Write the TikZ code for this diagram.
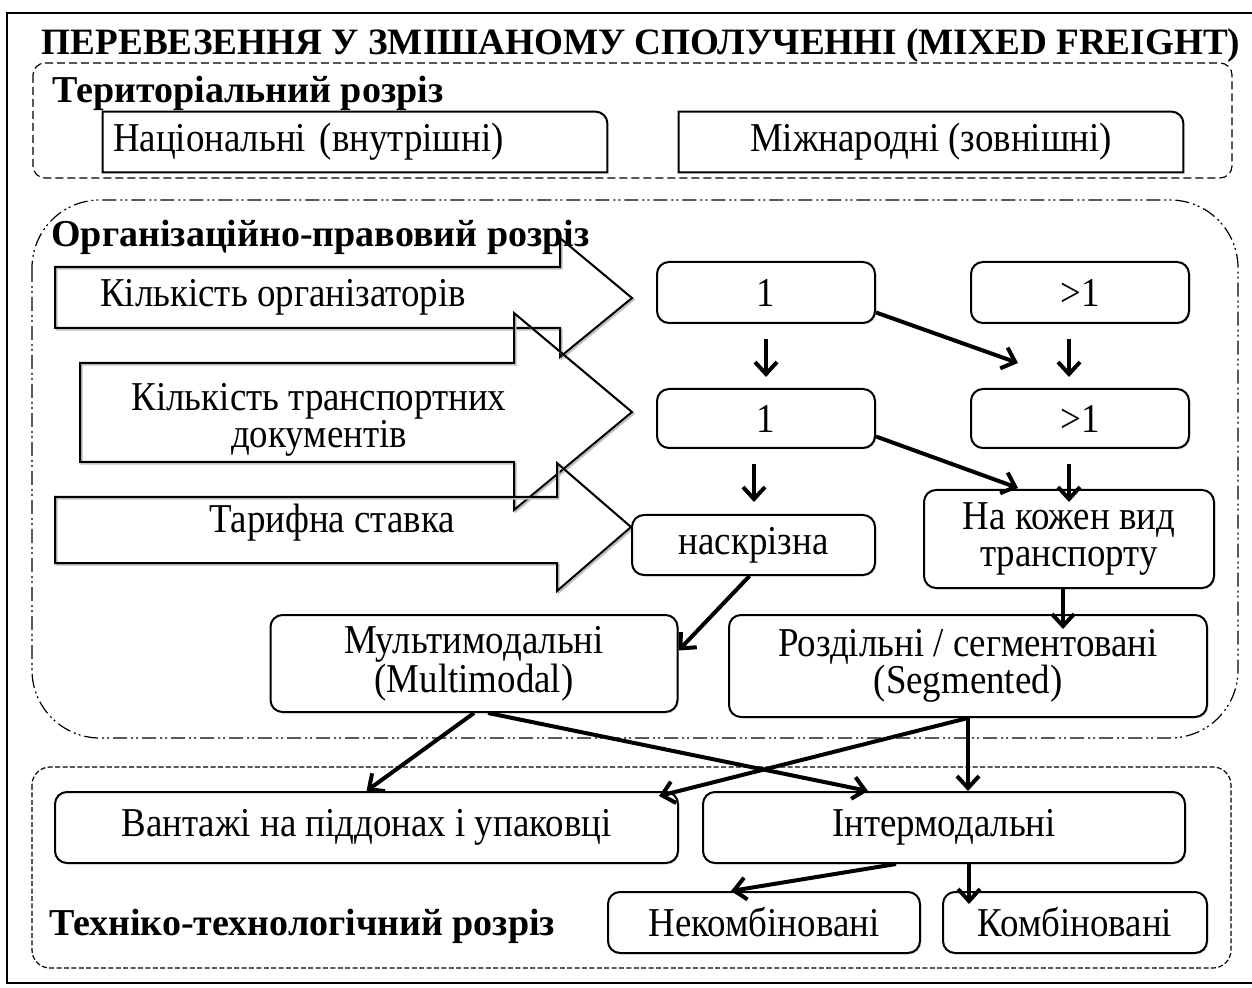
\documentclass[tikz,border=0pt]{standalone}
\usepackage{fontspec}
\setmainfont{Liberation Serif}
\newfontfamily\bodyfont[FakeStretch=0.9]{Liberation Serif}
\usetikzlibrary{arrows.meta,shadows}

\begin{document}
\begin{tikzpicture}[x=0.5pt,y=-0.5pt,
  every node/.style={font=\bodyfont\fontsize{20.5}{18.5}\selectfont},
  box/.style={draw,line width=1pt,rounded corners=6pt,fill=white,align=center,inner sep=2pt,
    drop shadow={shadow xshift=0.7pt,shadow yshift=-0.7pt,fill=black!25}},
  plainbox/.style={inner xsep=5pt,inner ysep=2pt},
  sect/.style={font=\bfseries\fontsize{19}{20}\selectfont,anchor=base west,inner sep=0pt},
  flow/.style={line width=2pt,-{Straight Barb[length=6pt,width=11pt]}},
  bigarrow/.style={line width=1pt,line join=miter,
    preaction={draw=black!25,line width=1pt,transform canvas={shift={(0.8pt,-0.8pt)}}}},
  terrline/.style={line width=0.6pt,rounded corners=6pt,dash pattern=on 4pt off 2pt},
  orgline/.style={line width=0.6pt,rounded corners=34pt,dash pattern=on 7pt off 2pt on 1pt off 1.5pt on 1pt off 2pt},
  techline/.style={line width=0.6pt,rounded corners=9pt,dash pattern=on 2.5pt off 1.2pt}]
  \useasboundingbox (0,0) rectangle (1252,988);
  \draw[line width=1pt] (7,13) rectangle (1258,983);

  % title
  \node[font=\bfseries\fontsize{18.6}{20}\selectfont,anchor=base] (title) at (641,55)
    {ПЕРЕВЕЗЕННЯ У ЗМІШАНОМУ СПОЛУЧЕННІ (MIXED FREIGHT)};

  % territorial
  \draw[terrline] (33,63) rectangle (1232,178);
  \node[sect] (terrlbl) at (52,103) {Територіальний розріз};
  \node[plainbox,minimum width=252pt,minimum height=30pt,text width=242pt,align=left]
    (nat) at (355,142) {Національні (внутрішні)};
  \node[plainbox,minimum width=252pt,minimum height=30pt] (mizh) at (931,142)
    {Міжнародні (зовнішні)};
  \draw[line width=1pt] (nat.south west) -- (nat.north west) -- ([xshift=-6pt]nat.north east)
    arc[start angle=90,end angle=0,radius=6pt] -- (nat.south east) -- cycle;
  \draw[line width=1pt] (mizh.south west) -- (mizh.north west) -- ([xshift=-6pt]mizh.north east)
    arc[start angle=90,end angle=0,radius=6pt] -- (mizh.south east) -- cycle;

  % organisational
  \draw[orgline] (32,200) rectangle (1238,738);
  \draw[bigarrow] (55,267) -- (560,267) -- (560,238) -- (632,298) -- (560,357) -- (560,328) -- (55,328) -- cycle;
  \draw[bigarrow] (80,363) -- (514,363) -- (514,313) -- (632,412) -- (514,510) -- (514,462) -- (80,462) -- cycle;
  \draw[bigarrow] (55,497) -- (557,497) -- (557,463) -- (631,527) -- (557,591) -- (557,563) -- (55,563) -- cycle;
  \node[sect] (orglbl) at (51,247) {Організаційно-правовий розріз};
  \node (orgtxt) at (283,297) {Кількість організаторів};
  \node[align=center] (doctxt) at (319,420) {Кількість транспортних\\документів};
  \node (ratetxt) at (332,523) {Тарифна ставка};

  \node[box,minimum width=109pt,minimum height=30.5pt] (one1) at (766,292.5) {1};
  \node[box,minimum width=109pt,minimum height=30.5pt] (many1) at (1080,292.5) {>1};
  \node[box,minimum width=109pt,minimum height=29.5pt] (one2) at (766,418.5) {1};
  \node[box,minimum width=109pt,minimum height=29.5pt] (many2) at (1080,418.5) {>1};
  \node[box,minimum width=121.5pt,minimum height=30pt] (nasq) at (753.5,545) {наскрізна};
  \node[box,minimum width=145pt,minimum height=49pt] (kozhen) at (1069,539) {На кожен вид\\транспорту};
  \node[box,minimum width=203.5pt,minimum height=48.5pt] (mult) at (474,663.5) {Мультимодальні\\(Multimodal)};
  \node[box,minimum width=239pt,minimum height=51pt] (seg) at (968,666) {Роздільні / сегментовані\\(Segmented)};
  \coordinate (m1) at (1018,363);
  \coordinate (k1) at (1018,488);

  % technical
  \draw[techline] (32,767) rectangle (1231,968);
  \node[box,minimum width=311.5pt,minimum height=35.5pt] (vant) at (366.5,827.5) {Вантажі на піддонах і упаковці};
  \node[box,minimum width=241pt,minimum height=35.5pt] (inter) at (944,827.5) {Інтермодальні};
  \node[box,minimum width=156pt,minimum height=30.5pt] (nekomb) at (764,922.5) {Некомбіновані};
  \node[box,minimum width=132pt,minimum height=30.5pt] (komb) at (1075,922.5) {Комбіновані};
  \node[sect] (techlbl) at (49,935) {Техніко-технологічний розріз};

  % connectors
  \draw[flow,shorten <=7.5pt,shorten >=5.5pt] (one1.south) -- (one1.south |- one2.north);
  \draw[flow,shorten <=7.5pt,shorten >=5.5pt] ([xshift=-5.5pt]many1.south) -- ([xshift=-5.5pt]many1.south |- many2.north);
  \draw[flow] ([yshift=-10pt]one1.east) -- (m1);
  \draw[flow,shorten <=7.5pt,shorten >=6pt] ([xshift=-6pt]one2.south) -- ([xshift=-6pt]one2.south |- nasq.north);
  \draw[flow,shorten <=7.5pt,shorten >=-6.5pt] ([xshift=-5.5pt]many2.south) -- ([xshift=-5.5pt]many2.south |- kozhen.north);
  \draw[flow] ([yshift=-9pt]one2.east) -- (k1);
  \draw[flow] ([xshift=-2pt]nasq.south) -- ([yshift=6.5pt]mult.east);
  \draw[flow,shorten >=-7.5pt] ([xshift=-3pt]kozhen.south) -- ([xshift=-3pt]kozhen.south |- seg.north);
  \draw[flow] (seg.south) -- (seg.south |- inter.north);
  \draw[flow] (seg.south) -- ([xshift=-10pt,yshift=-2.5pt]vant.north east);
  \draw[flow] (mult.south) -- (vant.north);
  \draw[flow] ([xshift=7pt]mult.south) -- ([xshift=-38pt]inter.north);
  \draw[flow] ([xshift=-24pt]inter.south) -- ([xshift=-16.5pt]nekomb.north);
  \draw[flow,shorten >=-6.5pt] ([xshift=12.5pt]inter.south) -- ([xshift=12.5pt]inter.south |- komb.north);
\end{tikzpicture}
\end{document}
